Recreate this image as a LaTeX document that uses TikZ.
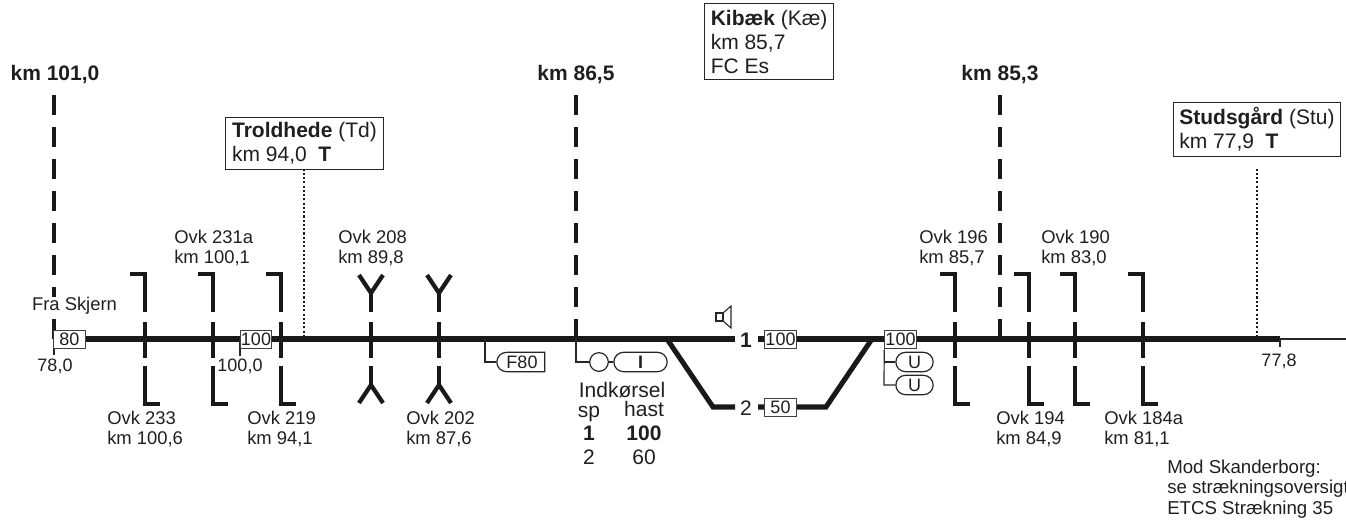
\documentclass[tikz,border=0pt]{standalone}
\usepackage{fontspec}
\usetikzlibrary{shapes.misc}
\setmainfont{Liberation Sans}
\tikzset{
 x=0.75pt,y=-0.75pt,
 txt/.style={font=\fontsize{13.8}{15.2}\selectfont,text=black!88,inner sep=0pt,align=left},
 big/.style={txt,font=\fontsize{15.75}{18}\selectfont,align=center},
 ctxt/.style={txt,align=center,font=\fontsize{13.5}{15}\selectfont},
 track/.style={line width=3.8pt,black!90,line join=miter},
 thin/.style={line width=0.9pt,black!85},
 bar/.style={line width=3.2pt,black!90,line join=miter},
 km/.style={line width=3.3pt,black!90},
 dots/.style={line width=2.1pt,black!90,dash pattern=on 1.6pt off 1.6pt},
 sbox/.style={draw=black!75,line width=0.9pt,fill=white,minimum width=23.5pt,minimum height=14pt,inner sep=0pt,font=\fontsize{13.5}{15}\selectfont,text=black!88},
 lab/.style={draw=black!85,line width=0.9pt,fill=white,anchor=north west,inner sep=0pt,align=left,font=\fontsize{15.75}{18}\selectfont,text=black!88},
 sig/.style={draw=black!85,line width=0.9pt,fill=white,rounded rectangle,minimum height=14.5pt,inner sep=0pt,font=\fontsize{13.5}{15}\selectfont,text=black!88},
}
\newcommand{\Ovk}[1]{%
 \draw[bar] (#1-15,274) -- (#1,274) -- (#1,312);
 \draw[bar] (#1,322) -- (#1,358);
 \draw[bar] (#1,366) -- (#1,404) -- (#1+15,404);
}
\newcommand{\OvkY}[1]{%
 \draw[bar] (#1-12,275) -- (#1,293) -- (#1+12,275);
 \draw[bar] (#1,293) -- (#1,312);
 \draw[bar] (#1,322) -- (#1,358);
 \draw[bar] (#1,366) -- (#1,385);
 \draw[bar] (#1-12,403) -- (#1,385) -- (#1+12,403);
}
\newcommand{\KmDash}[1]{%
 \foreach \k in {95,127,159,191,223,255,287,319}{\draw[km] (#1,\k) -- (#1,\k+20);}
}
\begin{document}
\begin{tikzpicture}
\useasboundingbox (0,0) rectangle (1346,522);
\clip (0,0) rectangle (1346,522);
% km lines
\KmDash{54}\KmDash{576}\KmDash{1000}
\node[fill=white,inner sep=0pt,ctxt,font=\fontsize{13.8}{15}\selectfont] (fra) at (74.5,306) {Fra Skjern};
% track
\coordinate (w) at (54,339);
\coordinate (e) at (1280,339);
\coordinate (ee) at (1346,339);
\draw[track] (w) -- (735,339);
\draw[track] (758,339) -- (e);
\draw[thin] (e) -- (ee);
\draw[track] (667,339) -- (713,407) -- (735,407);
\draw[track] (758,407) -- (826,407) -- (872,339);
% crossings
\Ovk{145}\Ovk{213}\Ovk{281}
\OvkY{371}\OvkY{439}
\Ovk{955}\Ovk{1029}\Ovk{1075}\Ovk{1143}
% thin ticks
\draw[thin] (54,339) -- (54,355);
\draw[thin] (240,339) -- (240,356);
\draw[thin] (1280,339) -- (1280,347);
% speed boxes
\node[sbox] (s80) at (69.5,339.5) {80};
\node[sbox] (s100a) at (256,339.5) {100};
\node[sbox] (s100b) at (780.5,339.5) {100};
\node[sbox] (s50) at (780.5,407.5) {50};
\node[sbox] (s100c) at (900.5,339.5) {100};
\node[big] (t1) at (746,340) {\textbf{1}};
\node[big] (t2) at (746,408) {2};
% distance labels
\node[ctxt] (k78) at (55,366) {78,0};
\node[ctxt] (k100) at (240,366) {100,0};
\node[ctxt] (k77) at (1279,361) {77,8};
% overpass labels
\node[txt,anchor=west] at (174,248) {Ovk 231a\\km 100,1};
\node[txt,anchor=west] at (338,248) {Ovk 208\\km 89,8};
\node[txt,anchor=west] at (919,248) {Ovk 196\\km 85,7};
\node[txt,anchor=west] at (1041,248) {Ovk 190\\km 83,0};
\node[txt,anchor=west] at (107,429) {Ovk 233\\km 100,6};
\node[txt,anchor=west] at (247,429) {Ovk 219\\km 94,1};
\node[txt,anchor=west] at (406,429) {Ovk 202\\km 87,6};
\node[txt,anchor=west] at (996,429) {Ovk 194\\km 84,9};
\node[txt,anchor=west] at (1104,429) {Ovk 184a\\km 81,1};
\node[txt,anchor=west,font=\fontsize{14}{15.4}\selectfont] at (1167,489) {Mod Skanderborg:\\se strækningsoversigt\\ETCS Strækning 35};
% km headers
\node[big] at (55,75) {\textbf{km 101,0}};
\node[big] at (576,75) {\textbf{km 86,5}};
\node[big] at (1000,75) {\textbf{km 85,3}};
% stations
\node[lab,minimum width=119pt,minimum height=39.4pt] (td) at (224.5,116.5) {\textbf{Troldhede} (Td)\\km 94,0\ \ \textbf{T}};
\node[lab,minimum width=125pt,minimum height=40.5pt] (st) at (1173,102) {\textbf{Studsgård} (Stu)\\km 77,9\ \ \textbf{T}};
\node[lab,minimum width=96.75pt,minimum height=57pt] (ki) at (704,3) {\textbf{Kibæk} (Kæ)\\km 85,7\\FC Es};
\coordinate (tdf) at (304,337);
\coordinate (stf) at (1257,337);
\coordinate (stt) at (1257,169);
\draw[dots] (tdf) -- (td.south -| tdf);
\draw[dots] (stf) -- (stt);
% signals
\coordinate (fj) at (485,339);
\node[sig,rounded rectangle right arc=none,minimum width=36pt] (f80) at (522,362) {F80};
\draw[thin] (fj) |- (f80.west);
\coordinate (sj) at (576,339);
\node[draw=black!85,line width=0.9pt,fill=white,circle,minimum size=14pt,inner sep=0pt] (sc) at (599,362) {};
\draw[thin] (sj) |- (sc.west);
\node[sig,minimum width=40pt,font=\fontsize{13.5}{15}\selectfont\bfseries] (si) at (640.5,362) {I};
\draw[thin] (sc.east) -- (si.west);
\node[sig,minimum width=28pt] (u1) at (914.5,362) {U};
\node[sig,minimum width=28pt] (u2) at (914.5,385) {U};
\draw[thin] (s100c.south west) -- (884,385) -- (u2.west);
\draw[thin] (884,362) -- (u1.west);
% Indkoersel
\node[big,anchor=base] (ind) at (622,397) {Indkørsel};
\node[big,anchor=base] at (589,417) {sp};
\node[big,anchor=base] at (644,416) {hast};
\node[big,anchor=base] at (589,440) {\textbf{1}};
\node[big,anchor=base] at (644,440) {\textbf{100}};
\node[big,anchor=base] at (589,464) {2};
\node[big,anchor=base] at (644,464) {60};
% speaker
\draw[line width=0.8pt,black!85,line join=miter] (716,313) rectangle (723,321);
\draw[line width=0.8pt,black!85,line join=miter] (723,313) -- (731,306) -- (731,328) -- (723,321);
\end{tikzpicture}
\end{document}
